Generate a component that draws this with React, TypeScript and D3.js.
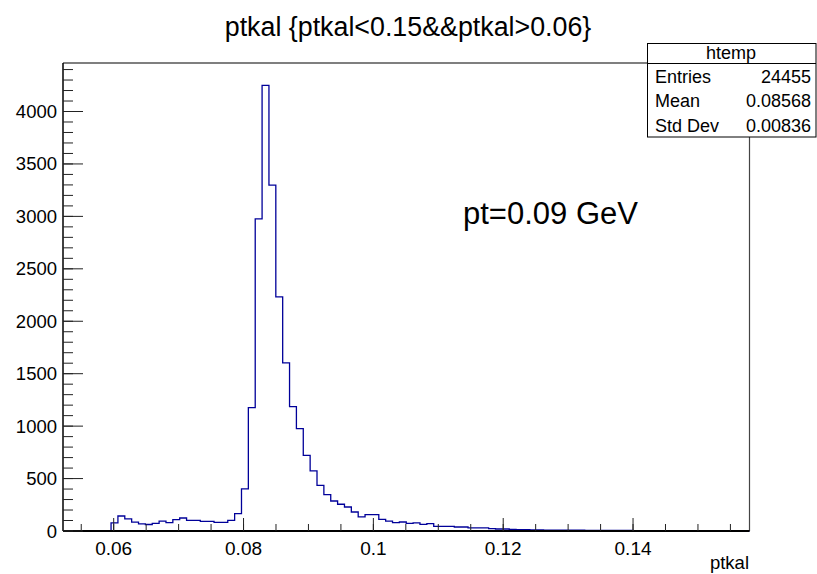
import React from "react";
import * as d3 from "d3";

const X_MIN = 0.05219;
const X_MAX = 0.15794;
const N_BINS = 100;

const counts: number[] = [
  0, 0, 0, 0, 0, 0, 0, 77, 143, 115,
  85, 68, 62, 72, 95, 80, 108, 124, 102, 102,
  92, 92, 83, 83, 102, 166, 402, 1176, 2977, 4250,
  3298, 2233, 1603, 1185, 977, 722, 573, 436, 347, 286,
  255, 229, 181, 134, 156, 156, 111, 95, 80, 86,
  73, 77, 64, 70, 45, 45, 45, 38, 38, 30,
  29, 29, 22, 19, 19, 15, 13, 12, 11, 10,
  9, 9, 8, 8, 7, 7, 6, 6, 6, 5,
  5, 5, 5, 4, 4, 4, 4, 3, 3, 3,
  3, 3, 2, 0, 0, 0, 0, 0, 0, 0,
];

const xMajorTicks = [0.06, 0.08, 0.1, 0.12, 0.14];
const xTickLabels = ["0.06", "0.08", "0.1", "0.12", "0.14"];
const yMajorTicks = [0, 500, 1000, 1500, 2000, 2500, 3000, 3500, 4000];

const titleText = "ptkal {ptkal<0.15&&ptkal>0.06}";
const xAxisTitle = "ptkal";
const statsName = "htemp";
const statsLabels = ["Entries", "Mean", "Std Dev"];
const statsValues = ["24455", "0.08568", "0.00836"];
const annotation = "pt=0.09 GeV";

const W = 817;
const H = 574;
const L = 63;
const R = 749.5;
const T = 63;
const B = 531;
const FONT = "'Liberation Sans', Arial, Helvetica, sans-serif";
const LINE = "#000099";

export default function App() {
  const x = d3.scaleLinear().domain([X_MIN, X_MAX]).range([L, R]);
  const yMax = d3.max(counts)! * 1.05;
  const y = d3.scaleLinear().domain([0, yMax]).range([B, T]);
  const bw = (X_MAX - X_MIN) / N_BINS;

  const pts: [number, number][] = [[X_MIN, 0]];
  counts.forEach((c, i) => {
    pts.push([X_MIN + i * bw, c]);
    pts.push([X_MIN + (i + 1) * bw, c]);
  });
  pts.push([X_MAX, 0]);
  const line = d3
    .line<[number, number]>()
    .x((d) => x(d[0]))
    .y((d) => y(d[1]));
  const path = line(pts) || "";

  const yMinor = d3.range(0, yMax, 100);
  const xMinor = d3.range(0.055, X_MAX, 0.005);

  return (
    <svg width={W} height={H} style={{ position: "absolute", left: 0, top: 0, background: "#fff" }}>
      <rect x={0} y={0} width={W} height={H} fill="#fff" />
      <text x={408} y={36} textAnchor="middle" fontFamily={FONT} fontSize={26.8} fill="#000">
        {titleText}
      </text>

      {/* histogram */}
      <path d={path} fill="none" stroke={LINE} strokeWidth={1.3} />

      {/* frame */}
      <line x1={L} y1={T} x2={R} y2={T} stroke="#000" strokeWidth={1.2} />
      <line x1={R} y1={T} x2={R} y2={B} stroke="#444" strokeWidth={1.2} />
      <line x1={L} y1={T} x2={L} y2={B} stroke="#000" strokeWidth={1.5} />
      <line x1={L} y1={B} x2={R} y2={B} stroke="#000" strokeWidth={1.8} />

      {/* y ticks */}
      {yMinor.map((v) => (
        <line key={"ym" + v} x1={L} x2={L + 10} y1={y(v)} y2={y(v)} stroke="#222" strokeWidth={1} />
      ))}
      {yMajorTicks.map((v) => (
        <g key={"yM" + v}>
          <line x1={L} x2={L + 20} y1={y(v)} y2={y(v)} stroke="#222" strokeWidth={1} />
          <text x={57} y={y(v) + 6.5} textAnchor="end" fontFamily={FONT} fontSize={18.5} fill="#000">
            {v}
          </text>
        </g>
      ))}

      {/* x ticks */}
      {xMinor.map((v) => (
        <line key={"xm" + v} x1={x(v)} x2={x(v)} y1={B} y2={B - 7} stroke="#222" strokeWidth={1} />
      ))}
      {xMajorTicks.map((v, i) => (
        <g key={"xM" + v}>
          <line x1={x(v)} x2={x(v)} y1={B} y2={B - 13} stroke="#222" strokeWidth={1} />
          <text x={x(v)} y={555} textAnchor="middle" fontFamily={FONT} fontSize={19} fill="#000">
            {xTickLabels[i]}
          </text>
        </g>
      ))}
      <text x={749} y={569} textAnchor="end" fontFamily={FONT} fontSize={18.5} fill="#000">
        {xAxisTitle}
      </text>

      {/* annotation */}
      <text x={463} y={224} fontFamily={FONT} fontSize={31} fill="#000">
        {annotation}
      </text>

      {/* stats box */}
      <rect x={647.5} y={43.5} width={168.5} height={93.5} fill="#fff" stroke="#000" strokeWidth={1} />
      <line x1={647.5} x2={816} y1={63.5} y2={63.5} stroke="#000" strokeWidth={1} />
      <text x={731} y={59} textAnchor="middle" fontFamily={FONT} fontSize={18} fill="#000">
        {statsName}
      </text>
      {statsLabels.map((s, i) => (
        <g key={s}>
          <text x={655} y={83 + i * 24.3} fontFamily={FONT} fontSize={18} fill="#000">
            {s}
          </text>
          <text x={811} y={83 + i * 24.3} textAnchor="end" fontFamily={FONT} fontSize={18} fill="#000">
            {statsValues[i]}
          </text>
        </g>
      ))}
    </svg>
  );
}
